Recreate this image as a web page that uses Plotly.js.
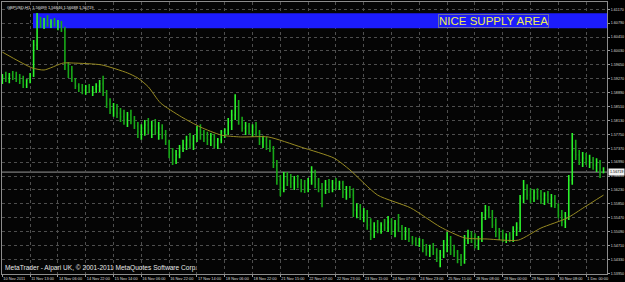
<!DOCTYPE html>
<html>
<head>
<meta charset="utf-8">
<script src="https://cdn.plot.ly/plotly-3.0.1.min.js"></script>
<style>html,body{margin:0;padding:0;background:#000;}#chart{width:625px;height:282px;}</style>
</head>
<body>
<div id="chart"></div>
<script>
// GBPUSD H1 bars (every plotted bar = one sampled hourly bar, bar index step 2)
const openP = [1.5924,1.5932,1.5929,1.5937,1.5932,1.5926,1.5921,1.5910,1.5924,1.5937,
1.6019,1.6082,1.6074,1.6085,1.6077,1.6082,1.6074,1.6080,1.6060,1.5965,
1.5951,1.5924,1.5907,1.5902,1.5896,1.5905,1.5894,1.5899,1.5907,1.5913,
1.5891,1.5858,1.5842,1.5847,1.5833,1.5823,1.5814,1.5828,1.5812,1.5798,
1.5782,1.5792,1.5801,1.5787,1.5798,1.5779,1.5792,1.5773,1.5754,1.5727,
1.5705,1.5719,1.5738,1.5746,1.5760,1.5749,1.5765,1.5787,1.5773,1.5765,
1.5760,1.5771,1.5746,1.5760,1.5782,1.5787,1.5809,1.5828,1.5847,1.5809,
1.5792,1.5798,1.5784,1.5795,1.5779,1.5754,1.5760,1.5743,1.5738,1.5691,
1.5650,1.5628,1.5656,1.5650,1.5642,1.5653,1.5639,1.5634,1.5625,1.5648,
1.5672,1.5639,1.5631,1.5623,1.5637,1.5631,1.5642,1.5634,1.5642,1.5617,
1.5623,1.5609,1.5568,1.5576,1.5555,1.5563,1.5527,1.5500,1.5524,1.5514,
1.5527,1.5519,1.5535,1.5514,1.5530,1.5519,1.5500,1.5514,1.5492,1.5483,
1.5478,1.5483,1.5462,1.5456,1.5467,1.5451,1.5437,1.5445,1.5473,1.5486,
1.5459,1.5453,1.5437,1.5426,1.5486,1.5497,1.5492,1.5475,1.5486,1.5555,
1.5568,1.5557,1.5527,1.5508,1.5497,1.5492,1.5500,1.5486,1.5514,1.5519,
1.5601,1.5623,1.5609,1.5601,1.5617,1.5606,1.5598,1.5609,1.5596,1.5601,
1.5582,1.5555,1.5535,1.5552,1.5650,1.5732,1.5719,1.5705,1.5710,1.5700,
1.5705,1.5691,1.5700,1.5670];
const highP = [1.5940,1.5946,1.5943,1.5948,1.5946,1.5940,1.5935,1.5926,1.5943,1.6033,
1.6107,1.6096,1.6093,1.6101,1.6090,1.6093,1.6088,1.6085,1.6069,1.5973,
1.5962,1.5929,1.5915,1.5913,1.5910,1.5913,1.5907,1.5915,1.5924,1.5935,
1.5896,1.5874,1.5861,1.5858,1.5847,1.5842,1.5836,1.5842,1.5825,1.5809,
1.5803,1.5814,1.5820,1.5812,1.5817,1.5809,1.5803,1.5787,1.5760,1.5738,
1.5732,1.5746,1.5760,1.5771,1.5779,1.5773,1.5798,1.5803,1.5787,1.5782,
1.5779,1.5776,1.5765,1.5787,1.5792,1.5820,1.5842,1.5885,1.5869,1.5823,
1.5809,1.5806,1.5803,1.5809,1.5787,1.5771,1.5768,1.5760,1.5743,1.5705,
1.5664,1.5672,1.5672,1.5667,1.5661,1.5664,1.5653,1.5650,1.5656,1.5688,
1.5678,1.5656,1.5642,1.5650,1.5653,1.5650,1.5656,1.5648,1.5648,1.5634,
1.5634,1.5628,1.5587,1.5585,1.5574,1.5568,1.5546,1.5535,1.5541,1.5535,
1.5544,1.5552,1.5546,1.5541,1.5557,1.5527,1.5522,1.5519,1.5497,1.5494,
1.5492,1.5489,1.5475,1.5473,1.5478,1.5464,1.5459,1.5486,1.5508,1.5497,
1.5473,1.5459,1.5448,1.5500,1.5514,1.5511,1.5505,1.5497,1.5563,1.5582,
1.5579,1.5568,1.5546,1.5519,1.5514,1.5505,1.5508,1.5524,1.5535,1.5609,
1.5650,1.5639,1.5628,1.5625,1.5628,1.5623,1.5617,1.5620,1.5612,1.5609,
1.5587,1.5568,1.5563,1.5664,1.5779,1.5760,1.5732,1.5727,1.5724,1.5719,
1.5713,1.5710,1.5705,1.5685];
const lowP = [1.5913,1.5918,1.5915,1.5924,1.5918,1.5913,1.5902,1.5902,1.5915,1.5932,
1.6006,1.6066,1.6063,1.6069,1.6066,1.6069,1.6060,1.6055,1.5951,1.5929,
1.5918,1.5899,1.5891,1.5885,1.5883,1.5888,1.5880,1.5888,1.5891,1.5880,
1.5847,1.5831,1.5823,1.5820,1.5809,1.5801,1.5795,1.5803,1.5790,1.5765,
1.5760,1.5771,1.5776,1.5765,1.5773,1.5760,1.5762,1.5746,1.5710,1.5691,
1.5694,1.5710,1.5727,1.5732,1.5738,1.5732,1.5754,1.5760,1.5754,1.5746,
1.5743,1.5738,1.5735,1.5751,1.5765,1.5773,1.5787,1.5814,1.5801,1.5782,
1.5773,1.5776,1.5768,1.5771,1.5746,1.5738,1.5732,1.5727,1.5683,1.5637,
1.5606,1.5617,1.5634,1.5628,1.5623,1.5628,1.5617,1.5615,1.5617,1.5637,
1.5628,1.5617,1.5576,1.5612,1.5615,1.5617,1.5623,1.5623,1.5601,1.5596,
1.5601,1.5549,1.5546,1.5541,1.5535,1.5514,1.5486,1.5492,1.5505,1.5503,
1.5511,1.5508,1.5500,1.5494,1.5508,1.5486,1.5486,1.5481,1.5473,1.5470,
1.5467,1.5453,1.5443,1.5440,1.5445,1.5426,1.5412,1.5437,1.5453,1.5445,
1.5440,1.5423,1.5415,1.5421,1.5475,1.5478,1.5464,1.5459,1.5481,1.5541,
1.5546,1.5519,1.5494,1.5486,1.5481,1.5478,1.5481,1.5481,1.5497,1.5508,
1.5587,1.5596,1.5587,1.5590,1.5596,1.5585,1.5582,1.5587,1.5576,1.5574,
1.5546,1.5524,1.5519,1.5541,1.5637,1.5705,1.5691,1.5686,1.5691,1.5683,
1.5678,1.5672,1.5656,1.5669];
const closeP = [1.5932,1.5929,1.5937,1.5932,1.5926,1.5921,1.5910,1.5924,1.5935,1.6019,
1.6082,1.6074,1.6085,1.6077,1.6082,1.6074,1.6080,1.6060,1.5965,1.5951,
1.5929,1.5907,1.5902,1.5896,1.5905,1.5894,1.5899,1.5907,1.5913,1.5891,
1.5858,1.5842,1.5847,1.5833,1.5823,1.5814,1.5828,1.5812,1.5798,1.5782,
1.5792,1.5801,1.5787,1.5798,1.5779,1.5792,1.5773,1.5754,1.5727,1.5705,
1.5719,1.5738,1.5746,1.5760,1.5749,1.5765,1.5787,1.5773,1.5765,1.5760,
1.5771,1.5746,1.5760,1.5782,1.5787,1.5809,1.5828,1.5847,1.5809,1.5792,
1.5798,1.5784,1.5795,1.5779,1.5754,1.5760,1.5743,1.5738,1.5691,1.5650,
1.5628,1.5656,1.5650,1.5642,1.5653,1.5639,1.5634,1.5625,1.5648,1.5672,
1.5639,1.5631,1.5623,1.5637,1.5631,1.5642,1.5634,1.5642,1.5617,1.5623,
1.5609,1.5568,1.5576,1.5555,1.5563,1.5527,1.5500,1.5524,1.5514,1.5527,
1.5519,1.5535,1.5514,1.5530,1.5519,1.5500,1.5514,1.5492,1.5483,1.5478,
1.5486,1.5462,1.5456,1.5467,1.5451,1.5437,1.5445,1.5473,1.5486,1.5459,
1.5453,1.5437,1.5426,1.5486,1.5497,1.5492,1.5475,1.5486,1.5555,1.5568,
1.5557,1.5527,1.5508,1.5497,1.5492,1.5500,1.5486,1.5514,1.5519,1.5601,
1.5623,1.5609,1.5601,1.5617,1.5606,1.5598,1.5609,1.5596,1.5601,1.5582,
1.5555,1.5535,1.5552,1.5650,1.5732,1.5719,1.5705,1.5710,1.5700,1.5705,
1.5691,1.5700,1.5670,1.56719];

// moving average line, read at hourly bar indices
const maIndex = [0,17,24,35,41,57,72,78,84,91,103,114,126,137,153,172,191,200,216,235,252,266,279,297,310,325,335,346];
const maValue = [1.6000,1.5957,1.5951,1.5970,1.5970,1.5965,1.5943,1.5929,1.5905,1.5861,1.5823,1.5795,1.5773,1.5768,1.5768,1.5740,1.5710,1.5678,1.5609,1.5574,1.5522,1.5492,1.5489,1.5486,1.5519,1.5546,1.5576,1.5609];

// time axis labels (every 16 hourly bars)
const timeTickIndex = [0,16,32,48,64,80,96,112,128,144,160,176,192,208,224,240,256,272,288,304,320,336];
const timeTickText = ["10 Nov 2011","11 Nov 13:00","14 Nov 06:00","14 Nov 22:00","15 Nov 14:00","16 Nov 06:00","16 Nov 22:00","17 Nov 14:00","18 Nov 06:00","18 Nov 22:00","21 Nov 15:00","22 Nov 07:00","22 Nov 23:00","23 Nov 15:00","24 Nov 07:00","24 Nov 23:00","25 Nov 15:00","28 Nov 08:00","29 Nov 00:00","29 Nov 16:00","30 Nov 08:00","1 Dec 00:00"];

// price axis labels
const priceTicks = [1.61170,1.60790,1.60410,1.60030,1.59650,1.59270,1.58890,1.58510,1.58130,1.57750,1.57370,1.56990,1.56610,1.56230,1.55850,1.55470,1.55090,1.54710,1.54330,1.53950];
const priceTickText = priceTicks.map(v => v.toFixed(5));

const lastPrice = 1.56719;
const supplyLow = 1.6065, supplyHigh = 1.6106, supplyStartIndex = 17.6;
const headerText = "GBPUSD,H1  1.56699 1.56846 1.56688 1.56719";

const barIndex = openP.map((_, j) => 2 * j);

const FAM = "Liberation Sans, Arial, sans-serif";

const traces = [
  {
    type: "ohlc", x: barIndex, open: openP, high: highP, low: lowP, close: closeP,
    increasing: {line: {color: "#2cf52c", width: 1.6}},
    decreasing: {line: {color: "#18a818", width: 1.6}},
    tickwidth: 0.25, showlegend: false, hoverinfo: "skip"
  },
  {
    type: "scatter", mode: "lines", x: maIndex, y: maValue,
    line: {color: "#978a22", width: 1, shape: "spline", smoothing: 0.6},
    showlegend: false, hoverinfo: "skip"
  }
];

const layout = {
  width: 625, height: 282,
  margin: {l: 2, r: 18, t: 2, b: 8, pad: 0},
  paper_bgcolor: "#000000", plot_bgcolor: "#050505",
  showlegend: false,
  xaxis: {
    range: [-0.2, 348], rangeslider: {visible: false},
    tickmode: "array", tickvals: timeTickIndex, ticktext: timeTickText,
    ticks: "outside", ticklen: 2, tickcolor: "#9a9a9a",
    ticklabelposition: "outside right",
    tickfont: {family: FAM, size: 3.9, color: "#dedede"}, tickangle: 0,
    showgrid: true, gridcolor: "#4e4e4e", griddash: "dot", gridwidth: 1,
    showline: true, mirror: true, linecolor: "#8c8c8c", linewidth: 1,
    zeroline: false, fixedrange: true
  },
  yaxis: {
    range: [1.53933, 1.61369], side: "right",
    tickmode: "array", tickvals: priceTicks, ticktext: priceTickText,
    ticks: "outside", ticklen: 2, tickcolor: "#9a9a9a",
    tickfont: {family: FAM, size: 3.7, color: "#dedede"},
    showgrid: true, gridcolor: "#4e4e4e", griddash: "dot", gridwidth: 1,
    showline: true, mirror: true, linecolor: "#8c8c8c", linewidth: 1,
    zeroline: false, fixedrange: true
  },
  shapes: [
    {type: "rect", xref: "x", yref: "y", x0: supplyStartIndex, x1: 348, y0: supplyLow, y1: supplyHigh,
     fillcolor: "#1c1cfc", line: {width: 0}, layer: "between"},
    {type: "line", xref: "paper", yref: "y", x0: 0, x1: 1, y0: lastPrice, y1: lastPrice,
     line: {color: "#9a9a9a", width: 1}, layer: "below"}
  ],
  annotations: [
    {xref: "x", yref: "y", x: 282.4, y: (supplyLow + supplyHigh) / 2, text: "NICE SUPPLY AREA",
     showarrow: false, font: {family: FAM, size: 11.5, color: "#ecec52"},
     bordercolor: "#6f6f9f", borderwidth: 1, borderpad: 0},
    {xref: "paper", yref: "paper", x: 0, y: 1, xanchor: "left", yanchor: "top", xshift: 3, yshift: -1,
     text: headerText, showarrow: false, font: {family: FAM, size: 4.0, color: "#e6e6e6"}},
    {xref: "paper", yref: "paper", x: 0, y: 0, xanchor: "left", yanchor: "bottom", xshift: 1, yshift: 0,
     text: "MetaTrader - Alpari UK, © 2001-2011 MetaQuotes Software Corp.", showarrow: false,
     font: {family: FAM, size: 6.6, color: "#e6e6e6"}},
    {xref: "paper", yref: "y", x: 1, y: lastPrice, xanchor: "left", yanchor: "middle", xshift: 1,
     text: lastPrice.toFixed(5), showarrow: false, bgcolor: "#f2f2f2", borderpad: 1,
     font: {family: FAM, size: 3.7, color: "#000000"}}
  ]
};

Plotly.newPlot("chart", traces, layout, {staticPlot: true, displayModeBar: false});
</script>
</body>
</html>
